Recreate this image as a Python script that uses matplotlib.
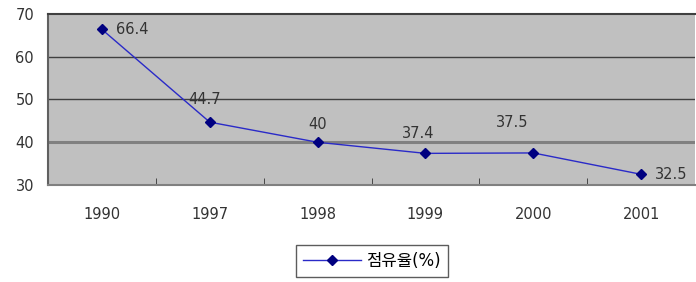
import matplotlib.pyplot as plt
import numpy as np

# data
years = ['1990', '1997', '1998', '1999', '2000', '2001']
share = [66.4, 44.7, 40, 37.4, 37.5, 32.5]
label_text = ['66.4', '44.7', '40', '37.4', '37.5', '32.5']
# label offsets (points) for each data label
offsets = [(10, 0), (-4, 16), (0, 13), (-5, 14), (-15, 22), (10, 0)]
aligns = ['left', 'center', 'center', 'center', 'center', 'left']

plt.rcParams['font.family'] = ['DejaVu Sans', 'Noto Sans CJK KR']

fig = plt.figure(figsize=(6.96, 2.82), dpi=100)
ax = fig.add_axes([48/696, 1-185/282, 647/696, 171/282])
ax.set_facecolor('#c0c0c0')

x = np.arange(len(years))
ax.plot(x, share, color='#2a2ac8', lw=1.0, marker='D', ms=5,
        mfc='#000080', mec='#000080', label='점유율(%)')

for i in range(len(x)):
    ax.annotate(label_text[i], (x[i], share[i]), xytext=offsets[i],
                textcoords='offset points', ha=aligns[i], va='center',
                fontsize=10.5, color='#333333')

ax.set_xlim(-0.5, len(x)-0.5)
ax.set_ylim(30, 70)
ax.set_yticks([30, 40, 50, 60, 70])
ax.set_xticks(x)
ax.set_xticklabels(years)
ax.set_xticks(np.arange(0.5, len(x)-0.5, 1), minor=True)
ax.tick_params(axis='x', which='major', length=0, pad=16, labelsize=10.5, labelcolor='#333333')
ax.tick_params(axis='x', which='minor', length=5, direction='in', color='#333333')
ax.tick_params(axis='y', length=0, pad=10, labelsize=10.5, labelcolor='#333333')

for v in [50, 60]:
    ax.axhline(v, color='#404040', lw=1.0, zorder=1)
ax.axhline(40, color='#808080', lw=2.2, zorder=1)

ax.spines['top'].set_color('#404040')
ax.spines['top'].set_linewidth(1.5)
ax.spines['left'].set_color('#606060')
ax.spines['left'].set_linewidth(1.5)
ax.spines['bottom'].set_color('#808080')
ax.spines['bottom'].set_linewidth(1.5)
ax.spines['right'].set_visible(False)

leg = fig.legend(loc='center', bbox_to_anchor=(372/696, 1-261/282), frameon=True,
                 fancybox=False, edgecolor='#333333', fontsize=12, handlelength=3.5,
                 handletextpad=0.3, borderpad=0.4)
leg.get_frame().set_linewidth(1.0)

fig.savefig('out.png', dpi=100)
